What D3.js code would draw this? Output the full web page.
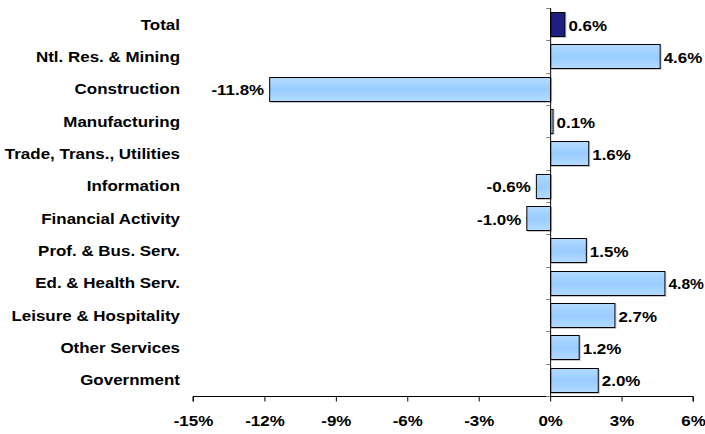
<!DOCTYPE html>
<html><head><meta charset="utf-8">
<script src="https://cdn.jsdelivr.net/npm/d3@7"></script>
<style>body{margin:0;background:#fff}svg{display:block}text{font-family:"Liberation Sans",Arial,sans-serif;font-weight:bold;font-size:15px;fill:#000}</style>
</head><body><svg id="c" width="705" height="434"></svg>
<script>
const categories = ["Total","Ntl. Res. & Mining","Construction","Manufacturing","Trade, Trans., Utilities","Information","Financial Activity","Prof. & Bus. Serv.","Ed. & Health Serv.","Leisure & Hospitality","Other Services","Government"];
const values = [0.6,4.6,-11.8,0.1,1.6,-0.6,-1.0,1.5,4.8,2.7,1.2,2.0];
const tickValues = [-15,-12,-9,-6,-3,0,3,6];

const SX = 1.13;
const svg = d3.select("#c");
const x = d3.scaleLinear().domain([-15,6]).range([193,693]);
const y = d3.scaleBand().domain(categories).range([8,396]).paddingInner(0.25).paddingOuter(0.125);

const defs = svg.append("defs");
const g = defs.append("linearGradient").attr("id","bg").attr("x1",0).attr("y1",0).attr("x2",0).attr("y2",1);
g.append("stop").attr("offset","0%").attr("stop-color","#b3dbff");
g.append("stop").attr("offset","50%").attr("stop-color","#99ccff");
g.append("stop").attr("offset","100%").attr("stop-color","#b3dbff");

// bar shadows
svg.append("g").selectAll("rect").data(categories).join("rect")
  .attr("x",(d,i)=>x(Math.min(0,values[i]))+1.5)
  .attr("y",d=>Math.round(y(d))+1.5)
  .attr("width",(d,i)=>Math.max(1,Math.abs(x(values[i])-x(0))))
  .attr("height",Math.round(y.bandwidth()))
  .attr("fill","none").attr("stroke","#c8c8c8").attr("stroke-width",1);

// bars
svg.append("g").selectAll("rect").data(categories).join("rect")
  .attr("x",(d,i)=>x(Math.min(0,values[i]))+0.5)
  .attr("y",d=>Math.round(y(d))+0.5)
  .attr("width",(d,i)=>Math.max(1,Math.abs(x(values[i])-x(0))))
  .attr("height",Math.round(y.bandwidth()))
  .attr("fill",(d,i)=>i===0?"#1f1f7f":"url(#bg)")
  .attr("stroke","#000").attr("stroke-width",1);

// x axis
const xa = svg.append("g").attr("transform","translate(0,396.5)")
  .call(d3.axisBottom(x).tickValues(tickValues).tickSize(5).tickPadding(14).tickFormat(d=>d+"%"));
xa.select(".domain").attr("stroke","#000").attr("d","M193,5V0H693V5");
xa.selectAll(".tick line").attr("stroke","#000");
xa.selectAll("text").attr("font-size",null).attr("font-family",null).style("font-size","15px")
  .attr("transform",`scale(${SX},1)`);

// y axis at zero
const ya = svg.append("g");
ya.append("line").attr("x1",x(0)+0.5).attr("x2",x(0)+0.5).attr("y1",8).attr("y2",396).attr("stroke","#000");
const bounds = d3.range(categories.length+1).map(i=>y.range()[0]+i*y.step());
ya.selectAll("line.t").data(bounds).join("line").attr("class","t")
  .attr("x1",x(0)-4).attr("x2",x(0)).attr("y1",d=>Math.round(d)+0.5).attr("y2",d=>Math.round(d)+0.5)
  .attr("stroke","#808080");

// category labels
svg.append("g").selectAll("text").data(categories).join("text")
  .attr("transform",d=>`translate(180,${y(d)+y.bandwidth()/2}) scale(${SX},1)`)
  .attr("dy","0.36em").attr("text-anchor","end").text(d=>d);

// value labels
svg.append("g").selectAll("text").data(categories).join("text")
  .attr("dy","0.36em")
  .attr("text-anchor",(d,i)=>values[i]>=0?"start":"end")
  .text((d,i)=>values[i].toFixed(1)+"%")
  .each(function(d,i){
    const tx = values[i]>=0?x(values[i])+4:x(values[i])-5;
    const w = this.getComputedTextLength();
    let s = SX;
    if (values[i]>=0 && tx + w*s > 704) s = (704 - tx)/w;
    d3.select(this).attr("transform",`translate(${tx},${y(d)+y.bandwidth()/2+1}) scale(${s},1)`);
  });
</script></body></html>
